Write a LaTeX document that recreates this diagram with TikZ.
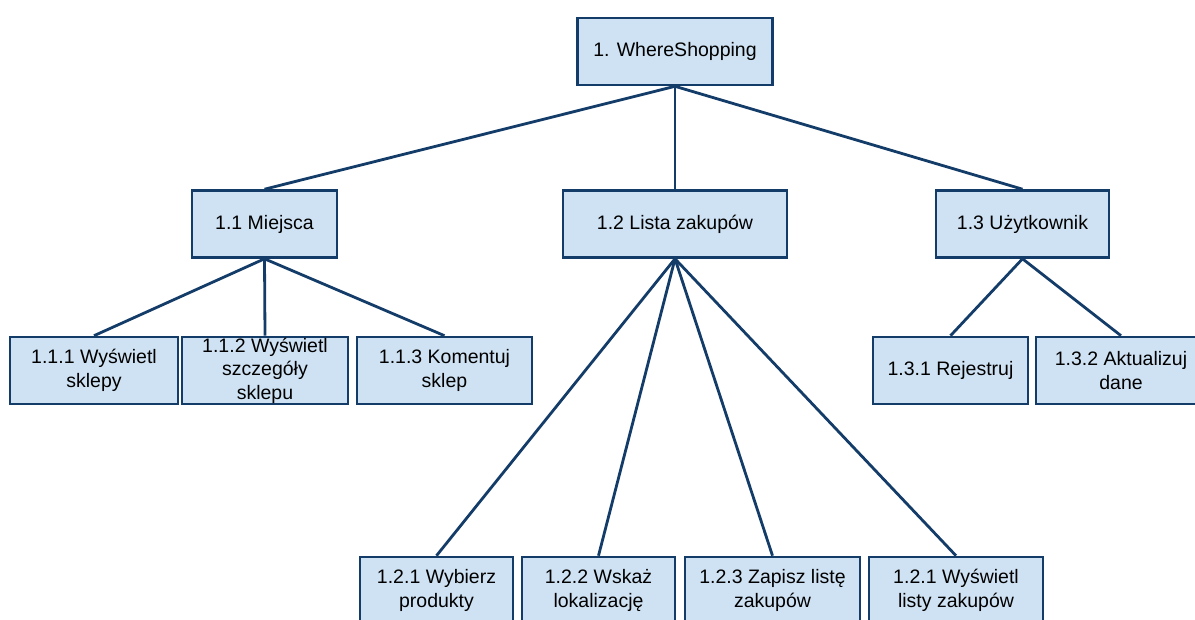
\documentclass[tikz,border=0pt]{standalone}
\usepackage{fontspec}
\setmainfont{Liberation Sans}
\definecolor{boxline}{RGB}{20,60,105}
\definecolor{boxfill}{RGB}{207,226,243}
\tikzset{
  wbs/.style={rectangle, draw=boxline, fill=boxfill, line width=2.6pt,
    inner sep=0pt, align=center, minimum height=67pt,
    font=\fontsize{19.5}{23.5}\selectfont},
  link/.style={draw=boxline, line width=2.8pt}
}
\begin{document}
\begin{tikzpicture}[x=1pt, y=-1pt]
  \clip (0,0) rectangle (1195,619);
  \fill[white] (0,0) rectangle (1195,619);

  % top level
  \node[wbs, minimum width=195pt] (root) at (675,51.5) {1. WhereShopping};

  % second level
  \node[wbs, minimum width=145pt] (m11) at (264.5,224) {1.1 Miejsca};
  \node[wbs, minimum width=224pt] (m12) at (675,224) {1.2 Lista zakupów};
  \node[wbs, minimum width=173pt] (m13) at (1022.5,224) {1.3 Użytkownik};

  % third level under 1.1
  \node[wbs, minimum width=168pt] (n111) at (94,370.5) {1.1.1 Wyświetl\\sklepy};
  \node[wbs, minimum width=166pt] (n112) at (265,370.5) {1.1.2 Wyświetl\\szczegóły\\sklepu};
  \node[wbs, minimum width=175pt] (n113) at (444.5,370.5) {1.1.3 Komentuj\\sklep};

  % third level under 1.3
  \node[wbs, minimum width=155pt] (n131) at (950.5,370.5) {1.3.1 Rejestruj};
  \node[wbs, minimum width=170pt] (n132) at (1121,370.5) {1.3.2 Aktualizuj\\dane};

  % third level under 1.2
  \node[wbs, minimum width=153pt] (n121) at (436.5,590.5) {1.2.1 Wybierz\\produkty};
  \node[wbs, minimum width=153pt] (n122) at (598.5,590.5) {1.2.2 Wskaż\\lokalizację};
  \node[wbs, minimum width=175pt] (n123) at (772.5,590.5) {1.2.3 Zapisz listę\\zakupów};
  \node[wbs, minimum width=174pt] (n124) at (956,590.5) {1.2.1 Wyświetl\\listy zakupów};

  % connectors
  \foreach \c in {m11,m12,m13} \draw[link] (root.south) -- (\c.north);
  \foreach \c in {n111,n112,n113} \draw[link] (m11.south) -- (\c.north);
  \foreach \c in {n121,n122,n123,n124} \draw[link] (m12.south) -- (\c.north);
  \foreach \c in {n131,n132} \draw[link] (m13.south) -- (\c.north);
\end{tikzpicture}
\end{document}
